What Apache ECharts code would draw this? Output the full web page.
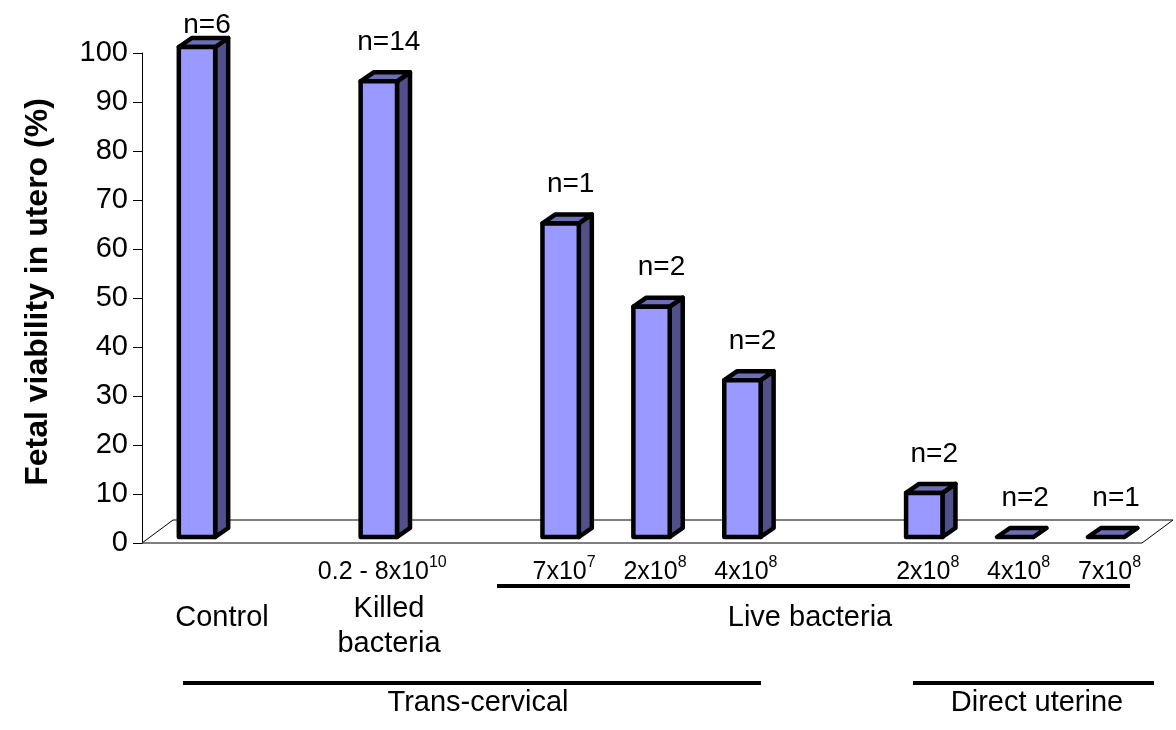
<!DOCTYPE html>
<html><head><meta charset="utf-8">
<script src="https://cdn.jsdelivr.net/npm/echarts@6/dist/echarts.min.js"></script>
<style>html,body{margin:0;padding:0;background:#fff}#chart{width:1176px;height:730px}</style>
</head><body><div id="chart"></div>
<script>
// ---- data ----
const categories = ['Control', 'gap-a', 'Killed bacteria', 'gap-b', 'Live 7x10^7', 'Live 2x10^8', 'Live 4x10^8', 'gap-c', 'Direct 2x10^8', 'Direct 4x10^8', 'Direct 7x10^8'];
const doseBase = ['', '', '0.2 - 8x10', '', '7x10', '2x10', '4x10', '', '2x10', '4x10', '7x10'];
const doseExp = ['', '', '10', '', '7', '8', '8', '', '8', '8', '8'];
const viability = [100, null, 93, null, 64, 47, 32, null, 9, 0, 0];
const sampleSizes = ['n=6', '', 'n=14', '', 'n=1', 'n=2', 'n=2', '', 'n=2', 'n=2', 'n=1'];
const yTickMin = 0, yTickMax = 100, yTickStep = 10;
const yTitle = 'Fetal viability in utero (%)';
const groupControl = 'Control';
const groupKilled = 'Killed\nbacteria';
const groupLive = 'Live bacteria';
const groupTrans = 'Trans-cervical';
const groupDirect = 'Direct uterine';

// ---- style ----
const FONT = 'Arial, "Liberation Sans", sans-serif';
const FRONT = '#9999FF', TOP = '#6E6EB8', SIDE = '#50508A';
const FLOOR_DX = 31, FLOOR_DY = -23;
const BAR_DX = 13, BAR_DY = -9;

const chart = echarts.init(document.getElementById('chart'));

function renderFloor(params, api) {
  const cs = params.coordSys;
  const yF = cs.y + cs.height, xL = cs.x, xR = cs.x + cs.width;
  return {
    type: 'polygon',
    shape: { points: [[xL, yF], [xR, yF], [xR + FLOOR_DX, yF + FLOOR_DY], [xL + FLOOR_DX, yF + FLOOR_DY]] },
    style: { fill: '#fff', stroke: '#000', lineWidth: 1 }
  };
}

function renderBar(params, api) {
  const idx = api.value(0), v = api.value(1);
  const base = api.coord([idx, 0]);
  const top = api.coord([idx, v]);
  const slot = api.size([1, 0])[0];
  const w = slot * 0.40;
  const cx = base[0] + slot * 0.105;
  const fdy = -6;
  const xl = cx - w / 2, xr = cx + w / 2;
  const yb = base[1] + fdy, yt = top[1] + fdy;
  const st = { stroke: '#000', lineWidth: 4.5, lineJoin: 'round' };
  const children = [
    { type: 'polygon', shape: { points: [[xr, yt], [xr + BAR_DX, yt + BAR_DY], [xr + BAR_DX, yb + BAR_DY], [xr, yb]] }, style: Object.assign({ fill: SIDE }, st) },
    { type: 'polygon', shape: { points: [[xl, yt], [xr, yt], [xr + BAR_DX, yt + BAR_DY], [xl + BAR_DX, yt + BAR_DY]] }, style: Object.assign({ fill: TOP }, st) }
  ];
  if (yb - yt > 0.5) {
    children.push({ type: 'rect', shape: { x: xl, y: yt, width: w, height: yb - yt }, style: Object.assign({ fill: FRONT }, st) });
  }
  // baseline of the n= label, kept clear of the top of the picture
  const baseline = Math.max(yt + BAR_DY - 22, params.coordSys.y - 20);
  children.push({
    type: 'text', x: cx + 10, y: baseline + 6,
    style: { text: sampleSizes[idx], fill: '#000', font: '28px ' + FONT, align: 'center', verticalAlign: 'bottom' }
  });
  return { type: 'group', children };
}

const barData = viability.map((v, i) => v == null ? null : [i, v]).filter(Boolean);

function groupText(text, x, y, extra) {
  return { type: 'text', x: x, y: y, style: Object.assign({ text: text, font: '29px ' + FONT, fill: '#000', align: 'center', verticalAlign: 'middle' }, extra || {}) };
}

const option = {
  backgroundColor: '#fff',
  animation: false,
  grid: { left: 142, right: 34, top: 53, bottom: 187, containLabel: false, outerBoundsMode: 'none' },
  xAxis: {
    type: 'category', data: categories,
    axisLine: { show: false }, axisTick: { show: false }, splitLine: { show: false },
    axisLabel: {
      interval: 0, margin: 12, padding: [0, 0, 0, 26],
      formatter: (val, i) => doseBase[i] ? '{m|' + doseBase[i] + '}{s|' + doseExp[i] + '}' : '',
      rich: {
        m: { fontSize: 25, fontFamily: FONT, color: '#000', lineHeight: 30, verticalAlign: 'bottom' },
        s: { fontSize: 16, fontFamily: FONT, color: '#000', lineHeight: 11, verticalAlign: 'top' }
      }
    }
  },
  yAxis: {
    type: 'value', min: yTickMin, max: yTickMax, interval: yTickStep,
    axisLine: { show: true, lineStyle: { color: '#000', width: 1 } },
    axisTick: { show: true, length: 9, lineStyle: { color: '#000', width: 1 } },
    splitLine: { show: false },
    axisLabel: { fontSize: 29, fontFamily: FONT, color: '#000', margin: 14 }
  },
  graphic: [
    { type: 'text', x: 38, y: 292, rotation: Math.PI / 2, style: { text: yTitle, font: 'bold 32px ' + FONT, fill: '#000', align: 'center', verticalAlign: 'middle' } },
    { type: 'line', shape: { x1: 497, y1: 586, x2: 1130, y2: 586 }, style: { stroke: '#000', lineWidth: 4 } },
    { type: 'line', shape: { x1: 183, y1: 683, x2: 761, y2: 683 }, style: { stroke: '#000', lineWidth: 4 } },
    { type: 'line', shape: { x1: 913, y1: 683, x2: 1154, y2: 683 }, style: { stroke: '#000', lineWidth: 4 } },
    groupText(groupControl, 222, 618),
    groupText(groupKilled, 389, 626, { lineHeight: 35 }),
    groupText(groupLive, 810, 618),
    groupText(groupTrans, 478, 703),
    groupText(groupDirect, 1037, 703)
  ],
  series: [
    { type: 'custom', name: 'floor', z: 1, renderItem: renderFloor, data: [[0, 0]], silent: true, clip: false },
    { type: 'custom', name: 'viability', z: 2, renderItem: renderBar, data: barData, clip: false, encode: { x: 0, y: 1 } }
  ]
};
chart.setOption(option);
</script>
</body></html>
